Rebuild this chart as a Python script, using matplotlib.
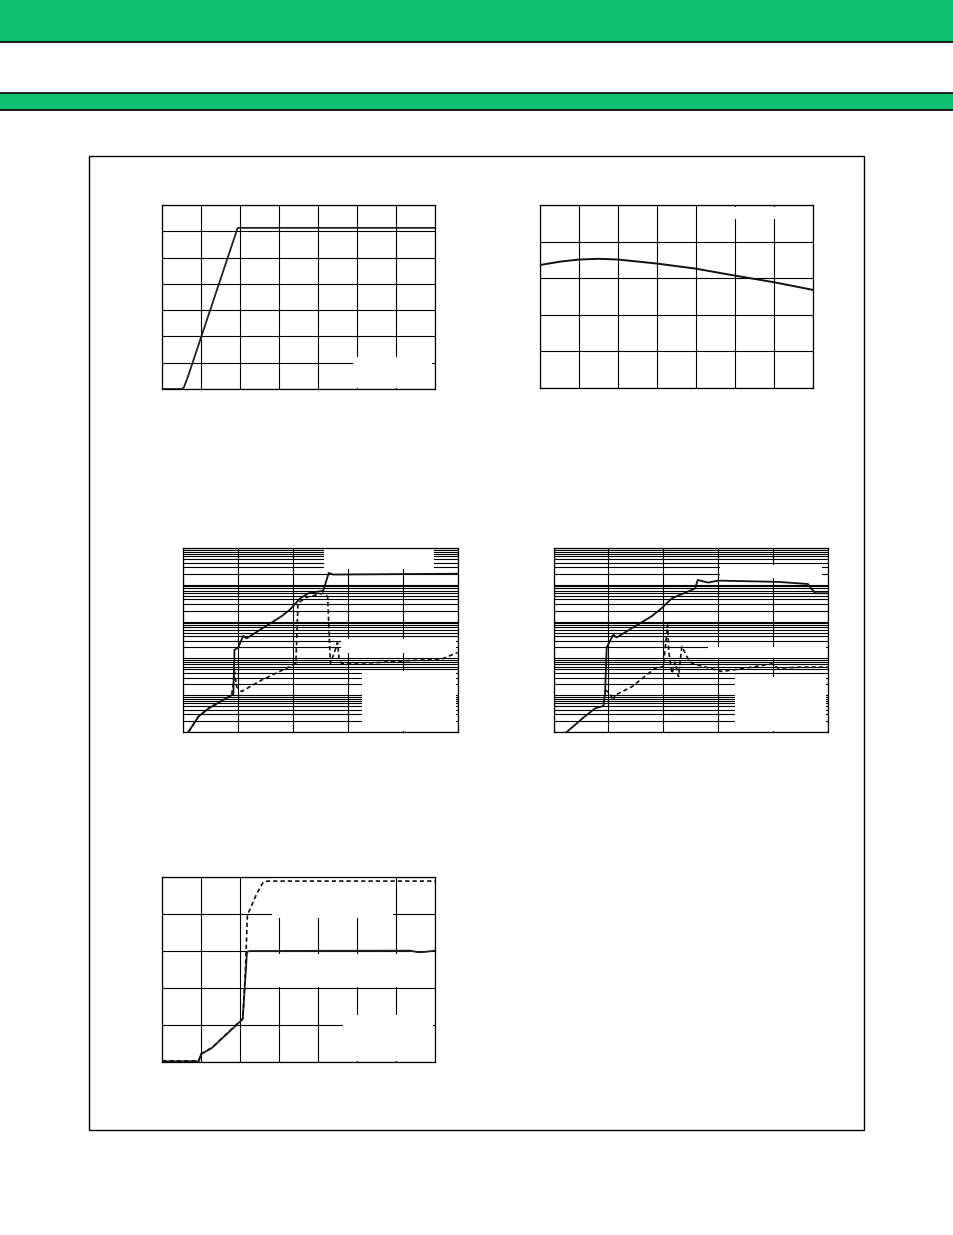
import matplotlib
matplotlib.use("Agg")
import matplotlib.pyplot as plt
import numpy as np
from matplotlib.patches import Rectangle
from matplotlib.ticker import LogLocator, NullFormatter

'''Data read off the reference (text was blanked in the original)'''
# Chart 1 (top left): linear 7x7 grid
c1_x = [0.0, 0.51, 0.56, 0.66, 1.94, 7.0]
c1_y = [0.0, 0.0, 0.06, 0.45, 6.13, 6.13]

# Chart 2 (top right): linear 7x5 grid
c2_x = [0.0, 0.5, 1.0, 1.5, 2.0, 3.0, 4.0, 5.0, 6.0, 7.0]
c2_y = [3.36, 3.45, 3.51, 3.53, 3.51, 3.40, 3.26, 3.07, 2.89, 2.68]

# Chart 3 (middle left): log y, 5 decades
c3_solid_x = [0.09, 0.27, 0.46, 0.70, 0.88, 0.91, 0.93, 1.00, 1.09, 1.15,
              1.79, 1.94, 2.13, 2.28, 2.55, 2.65, 2.73, 5.00]
c3_solid_y = [1.0e-7, 2.6e-7, 4.4e-7, 7.1e-7, 1.0e-6, 1.07e-6, 1.7e-5, 2.0e-5, 4.1e-5, 3.5e-5,
              1.4e-4, 2.1e-4, 4.3e-4, 5.9e-4, 6.9e-4, 2.1e-3, 1.9e-3, 2.0e-3]
c3_dash_x = [0.09, 0.27, 0.46, 0.70, 0.88, 0.93, 0.97, 1.06, 1.43, 2.00, 2.05, 2.09,
             2.25, 2.55, 2.63, 2.68, 2.75, 2.81, 2.84, 2.88, 3.49, 4.10, 4.71, 5.00]
c3_dash_y = [1.0e-7, 2.6e-7, 4.4e-7, 7.1e-7, 1.0e-6, 4.4e-6, 1.7e-6, 1.26e-6, 2.6e-6, 6.6e-6, 7.4e-6, 3.2e-4,
             4.6e-4, 5.9e-4, 4.8e-4, 7.4e-6, 1.4e-5, 2.7e-5, 1.0e-5, 7.4e-6, 7.6e-6, 8.7e-6, 9.5e-6, 1.45e-5]

# Chart 4 (middle right): log y, 5 decades
c4_solid_x = [0.24, 0.46, 0.52, 0.76, 0.91, 0.94, 0.97, 1.09, 1.15, 1.79, 1.97, 2.16,
              2.58, 2.63, 2.82, 3.00, 4.10, 4.64, 4.77, 5.00]
c4_solid_y = [1.0e-7, 1.9e-7, 2.3e-7, 4.4e-7, 5.1e-7, 1.1e-6, 2.0e-5, 4.4e-5, 3.7e-5, 1.4e-4, 2.3e-4, 4.3e-4,
              7.9e-4, 1.35e-3, 1.15e-3, 1.3e-3, 1.2e-3, 1.05e-3, 5.9e-4, 5.9e-4]
c4_dash_x = [0.94, 1.03, 1.09, 1.12, 1.43, 1.85, 2.00, 2.06, 2.08, 2.10, 2.16, 2.22, 2.28,
             2.34, 2.45, 2.52, 2.70, 3.07, 3.49, 3.98, 4.10, 4.50, 5.00]
c4_dash_y = [1.4e-6, 1.12e-6, 7.1e-7, 1.0e-6, 1.7e-6, 5.4e-6, 5.9e-6, 4.0e-5, 8.1e-5, 1.6e-5, 3.9e-6, 7.9e-6, 3.2e-6,
             2.1e-5, 1.0e-5, 7.4e-6, 6.2e-6, 4.4e-6, 5.4e-6, 7.1e-6, 5.4e-6, 5.8e-6, 5.8e-6]

# Chart 5 (bottom left): linear 7x5 grid
c5_solid_x = [0.0, 0.94, 1.00, 1.28, 2.07, 2.18, 2.26, 6.36, 6.55, 6.70, 7.00]
c5_solid_y = [0.02, 0.02, 0.21, 0.38, 1.16, 2.98, 3.00, 3.01, 2.97, 2.97, 3.01]
c5_dash_x = [0.0, 0.94, 1.00, 1.28, 2.07, 2.14, 2.19, 2.43, 2.60, 2.73, 7.00]
c5_dash_y = [0.03, 0.03, 0.22, 0.39, 1.17, 2.50, 3.97, 4.55, 4.87, 4.89, 4.89]

W, H = 954, 1235
GREEN = '#0ec070'
DASH = (0, (2.6, 1.8))

fig = plt.figure(figsize=(W / 100, H / 100), dpi=100)
fig.patch.set_facecolor('white')

#page background: header bands and outer frame
bg = fig.add_axes([0, 0, 1, 1], zorder=-1)
bg.set_xlim(0, W)
bg.set_ylim(H, 0)
bg.axis('off')
bg.add_patch(Rectangle((0, 0), W, 42, facecolor=GREEN, edgecolor='none'))
bg.plot([0, W], [42.2, 42.2], color='black', lw=1.2)
bg.add_patch(Rectangle((0, 93.2), W, 16.6, facecolor=GREEN, edgecolor='none'))
bg.plot([0, W], [93.2, 93.2], color='black', lw=1.2)
bg.plot([0, W], [109.8, 109.8], color='black', lw=1.2)
bg.add_patch(Rectangle((89.5, 155.5), 775, 974, facecolor='none', edgecolor='black', lw=1.0))


def px_axes(x0, y0, x1, y1):
    return fig.add_axes([x0 / W, 1 - y1 / H, (x1 - x0) / W, (y1 - y0) / H])


def style(ax):
    ax.set_axisbelow(True)
    ax.tick_params(which='both', length=0, labelleft=False, labelbottom=False)
    for s in ax.spines.values():
        s.set_linewidth(0.9)
        s.set_color('black')


def lin_grid(ax, nx, ny):
    ax.set_xlim(0, nx)
    ax.set_ylim(0, ny)
    ax.set_xticks(np.arange(nx + 1))
    ax.set_yticks(np.arange(ny + 1))
    ax.grid(True, color='black', lw=0.8)
    style(ax)


def log_grid(ax):
    ax.set_yscale('log')
    ax.set_xlim(0, 5)
    ax.set_ylim(1e-7, 1e-2)
    ax.set_xticks(np.arange(6))
    ax.yaxis.set_major_locator(LogLocator(base=10, numticks=20))
    ax.yaxis.set_minor_locator(LogLocator(base=10, subs=np.arange(2, 10), numticks=20))
    ax.yaxis.set_minor_formatter(NullFormatter())
    ax.grid(True, which='major', color='black', lw=0.8)
    ax.grid(True, which='minor', axis='y', color='black', lw=0.8)
    style(ax)


def blank(ax, x0, y0, x1, y1):
    #white patch where the legend / label text was
    ax.add_patch(Rectangle((x0, y0), x1 - x0, y1 - y0, transform=ax.transAxes,
                           facecolor='white', edgecolor='none', zorder=1))


#Chart 1
ax1 = px_axes(162, 205, 435, 389)
lin_grid(ax1, 7, 7)
ax1.plot(c1_x, c1_y, color='#222222', lw=1.3, zorder=3)
blank(ax1, 0.70, 0.005, 0.99, 0.176)

#Chart 2
ax2 = px_axes(540, 205, 813, 388)
lin_grid(ax2, 7, 5)
ax2.plot(c2_x, c2_y, color='#111111', lw=1.4, zorder=3)
blank(ax2, 0.585, 0.923, 0.99, 0.99)

#Chart 3
ax3 = px_axes(183.5, 548, 457.5, 732)
log_grid(ax3)
ax3.plot(c3_solid_x, c3_solid_y, color='#111111', lw=1.3, zorder=3)
ax3.plot(c3_dash_x, c3_dash_y, color='#111111', lw=1.2, ls=DASH, zorder=3)
blank(ax3, 0.511, 0.884, 0.916, 0.993)
blank(ax3, 0.574, 0.428, 0.995, 0.507)
blank(ax3, 0.653, 0.005, 0.993, 0.333)

#Chart 4
ax4 = px_axes(553.5, 548, 827.7, 732)
log_grid(ax4)
ax4.plot(c4_solid_x, c4_solid_y, color='#111111', lw=1.3, zorder=3)
ax4.plot(c4_dash_x, c4_dash_y, color='#111111', lw=1.2, ls=DASH, zorder=3)
blank(ax4, 0.607, 0.835, 0.979, 0.908)
blank(ax4, 0.562, 0.40, 0.995, 0.46)
blank(ax4, 0.662, 0.005, 0.993, 0.297)

#Chart 5
ax5 = px_axes(162, 877, 435, 1062)
lin_grid(ax5, 7, 5)
ax5.plot(c5_solid_x, c5_solid_y, color='#222222', lw=1.3, zorder=3)
ax5.plot(c5_dash_x, c5_dash_y, color='#111111', lw=1.2, ls=DASH, zorder=3)
blank(ax5, 0.402, 0.778, 0.845, 0.995)
blank(ax5, 0.312, 0.405, 0.993, 0.585)
blank(ax5, 0.662, 0.005, 0.993, 0.254)

fig.savefig('out.png', dpi=100)
